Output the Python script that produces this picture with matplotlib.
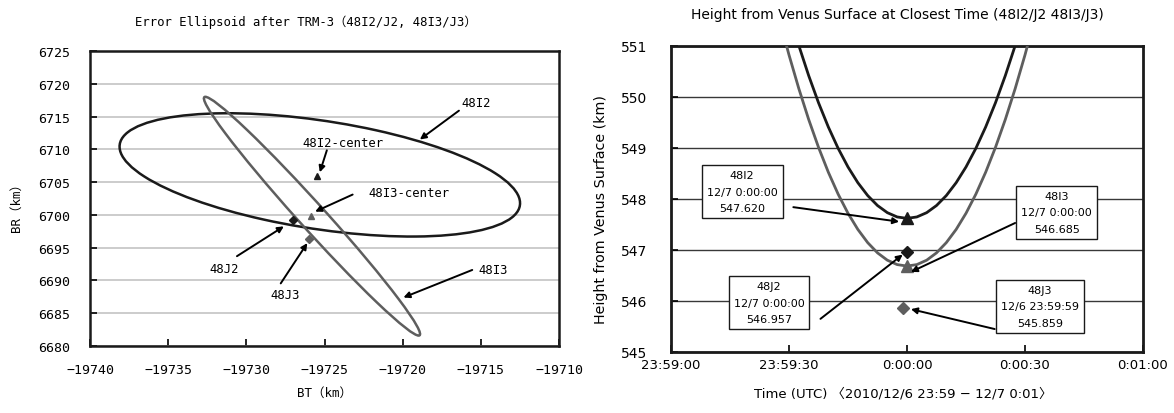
import matplotlib
matplotlib.use("Agg")
import numpy as np
import matplotlib.pyplot as plt
from matplotlib.patches import Ellipse

plt.rcParams["font.family"] = ["Noto Sans CJK JP", "DejaVu Sans"]
mono = ["DejaVu Sans Mono", "Noto Sans CJK JP"]
prop = ["DejaVu Sans", "Noto Sans CJK JP"]

# Error ellipses in the B-plane (BT, BR), km
ell_names = ["48I2", "48I3"]
ell_bt = [-19725.3, -19725.8]
ell_br = [6706.1, 6699.8]
ell_width = [27.8, 38.9]
ell_height = [15.4, 2.1]
ell_angle = [-27.8, 110.6]

# Aim points
pt_names = ["48I2-center", "48I3-center", "48J2", "48J3"]
pt_bt = [-19725.45, -19725.86, -19727.0, -19726.0]
pt_br = [6706.0, 6699.85, 6699.25, 6696.35]

# Height history around closest approach, seconds from 12/7 0:00:00
t_sec = [-35, -32.5, -30, -27.5, -25, -22.5, -20, -17.5, -15, -12.5, -10, -7.5, -5, -2.5, 0,
         2.5, 5, 7.5, 10, 12.5, 15, 17.5, 20, 22.5, 25, 27.5, 30, 32.5, 35]
h_48i2 = [553.108, 552.352, 551.652, 551.008, 550.420, 549.888, 549.412, 548.992, 548.628, 548.320,
          548.068, 547.872, 547.732, 547.648, 547.620,
          547.648, 547.732, 547.872, 548.068, 548.320, 548.628, 548.992, 549.412, 549.888, 550.420,
          551.008, 551.652, 552.352, 553.108]
h_48i3 = [552.320, 551.544, 550.825, 550.164, 549.560, 549.014, 548.525, 548.094, 547.720, 547.404,
          547.145, 546.944, 546.800, 546.714, 546.685,
          546.714, 546.800, 546.944, 547.145, 547.404, 547.720, 548.094, 548.525, 549.014, 549.560,
          550.164, 550.825, 551.544, 552.320]

# Closest points
ca_names = ["48I2", "48I3", "48J2", "48J3"]
ca_stamp = ["12/7 0:00:00", "12/7 0:00:00", "12/7 0:00:00", "12/6 23:59:59"]
ca_t = [0, 0, 0, -1]
ca_h = [547.620, 546.685, 546.957, 545.859]

time_ticks = [-60, -30, 0, 30, 60]
time_labels = ["23:59:00", "23:59:30", "0:00:00", "0:00:30", "0:01:00"]

black = "#1a1a1a"
gray = "#5e5e5e"

fig = plt.figure(figsize=(11.74, 4.14), dpi=100)
ax1 = fig.add_axes([90 / 1174, 1 - 347 / 414, 469 / 1174, 295 / 414])
ax2 = fig.add_axes([671 / 1174, 1 - 353 / 414, 472 / 1174, 306 / 414])

# ---- left: error ellipses ----
ell_colors = [black, gray]
for i in range(len(ell_names)):
    e = Ellipse((ell_bt[i], ell_br[i]), ell_width[i], ell_height[i], angle=ell_angle[i],
                fill=False, edgecolor=ell_colors[i], linewidth=1.8, zorder=3)
    ax1.add_patch(e)

pt_style = [("^", black, 5), ("^", gray, 5), ("D", black, 4), ("D", gray, 4)]
for i in range(len(pt_names)):
    m, c, s = pt_style[i]
    ax1.plot(pt_bt[i], pt_br[i], marker=m, color=c, markersize=s, linestyle="none", zorder=4)

arrow = dict(arrowstyle="-|>", color="black", lw=1.4, mutation_scale=9, shrinkA=0, shrinkB=0)
left_notes = [
    ("48I2", (-19715.3, 6717.2), (-19716.4, 6715.9), (-19718.9, 6711.5)),
    ("48I2-center", (-19723.8, 6711.1), (-19724.85, 6709.85), (-19725.3, 6706.5)),
    ("48I3-center", (-19719.6, 6703.35), (-19723.2, 6703.1), (-19725.6, 6700.5)),
    ("48J2", (-19731.4, 6691.85), (-19730.6, 6693.7), (-19727.6, 6698.25)),
    ("48J3", (-19727.5, 6687.9), (-19727.8, 6689.55), (-19726.1, 6695.7)),
    ("48I3", (-19714.2, 6691.6), (-19715.55, 6691.6), (-19719.95, 6687.4)),
]
for label, tpos, start, tip in left_notes:
    ax1.text(tpos[0], tpos[1], label, fontsize=8.8, family=mono, ha="center", va="center", zorder=5)
    ax1.annotate("", xy=tip, xytext=start, arrowprops=arrow, zorder=5)

ax1.set_xlim(-19740, -19710)
ax1.set_ylim(6680, 6725)
ax1.set_xticks(np.arange(-19740, -19709, 5))
ax1.set_yticks(np.arange(6680, 6726, 5))
ax1.grid(axis="y", color="#c4c4c4", linewidth=1.2)
ax1.set_axisbelow(True)
ax1.tick_params(direction="in", length=5, width=1.2)
ax1.tick_params(axis="x", pad=12)
ax1.tick_params(axis="y", pad=14)
for lab in ax1.get_xticklabels() + ax1.get_yticklabels():
    lab.set_family(mono)
    lab.set_fontsize(9.5)
for sp in ax1.spines.values():
    sp.set_linewidth(1.8)
    sp.set_color(black)
fig.text(306 / 1174, 1 - 22 / 414, "Error Ellipsoid after TRM-3（48I2/J2, 48I3/J3）",
         ha="center", va="center", fontsize=8.8, family=mono)
fig.text(324 / 1174, 1 - 393 / 414, "BT（km）", ha="center", va="center", fontsize=9, family=mono)
fig.text(16 / 1174, 1 - 205 / 414, "BR（km）", ha="center", va="center", fontsize=9, family=mono,
         rotation=90)

# ---- right: height at closest time ----
ax2.plot(t_sec, h_48i2, color=black, linewidth=2, zorder=3)
ax2.plot(t_sec, h_48i3, color=gray, linewidth=2, zorder=3)

ca_style = [("^", black, 9), ("^", gray, 9), ("D", black, 6), ("D", gray, 6)]
for i in range(len(ca_names)):
    m, c, s = ca_style[i]
    ax2.plot(ca_t[i], ca_h[i], marker=m, color=c, markersize=s, linestyle="none", zorder=4)

box_pos = [(-41.9, 548.14), (38.1, 547.74), (-35.1, 545.97), (33.8, 545.9)]
arrow_from = [(-28.9, 547.84), (27.5, 547.53), (-22.0, 545.65), (22.3, 545.45)]
arrow_to = [(-2.0, 547.555), (1.0, 546.57), (-1.1, 546.91), (1.0, 545.84)]
for i in range(len(ca_names)):
    txt = f"{ca_names[i]}\n{ca_stamp[i]}\n{ca_h[i]:.3f}"
    ax2.text(box_pos[i][0], box_pos[i][1], txt, ha="center", va="center", fontsize=8,
             linespacing=1.8, zorder=6, family=prop,
             bbox=dict(boxstyle="square,pad=0.45", facecolor="white", edgecolor=black, linewidth=1))
    ax2.annotate("", xy=arrow_to[i], xytext=arrow_from[i], arrowprops=arrow, zorder=5)

ax2.set_xlim(-60, 60)
ax2.set_ylim(545, 551)
ax2.set_xticks(time_ticks)
ax2.set_xticklabels(time_labels)
ax2.set_yticks(np.arange(545, 552, 1))
ax2.grid(axis="y", color="#383838", linewidth=1)
ax2.set_axisbelow(True)
ax2.tick_params(direction="in", length=5, width=1.2)
ax2.tick_params(axis="x", pad=4)
ax2.tick_params(axis="y", pad=17)
for lab in ax2.get_xticklabels():
    lab.set_family(prop)
    lab.set_fontsize(9.5)
for lab in ax2.get_yticklabels():
    lab.set_family(prop)
    lab.set_fontsize(10)
for sp in ax2.spines.values():
    sp.set_linewidth(2)
    sp.set_color(black)
fig.text(897 / 1174, 1 - 15 / 414, "Height from Venus Surface at Closest Time (48I2/J2 48I3/J3)",
         ha="center", va="center", fontsize=10, family=prop)
fig.text(903 / 1174, 1 - 394 / 414, "Time (UTC) 〈2010/12/6 23:59 − 12/7 0:01〉",
         ha="center", va="center", fontsize=9.5, family=prop)
fig.text(601 / 1174, 1 - 210 / 414, "Height from Venus Surface (km)", ha="center", va="center",
         fontsize=10.3, family=prop, rotation=90)

fig.savefig("out.png", dpi=100, facecolor="white")
